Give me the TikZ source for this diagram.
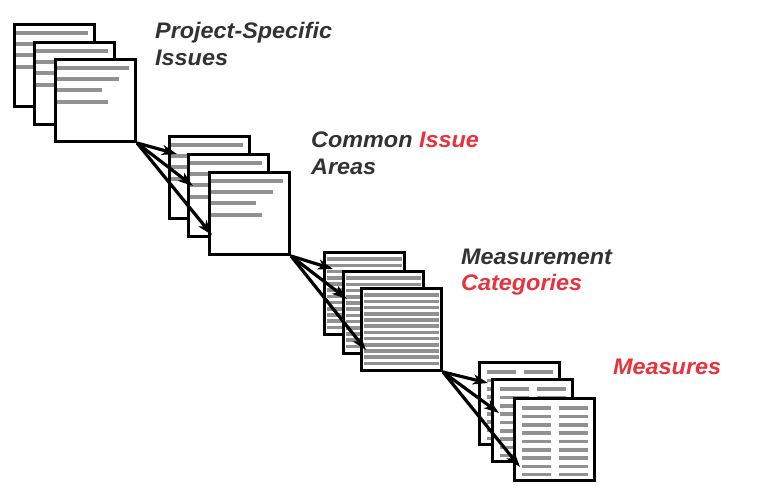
\documentclass[tikz,border=0pt]{standalone}
\usepackage{xcolor}
\usepackage{fontspec}
\setsansfont{Liberation Sans}[FakeStretch=1.04]
\usepackage{tikz}
\usetikzlibrary{arrows.meta,positioning,calc}
\definecolor{bargray}{RGB}{145,145,145}
\definecolor{inkgray}{RGB}{50,50,50}
\definecolor{inkred}{RGB}{232,50,60}
\tikzset{
    page/.style={
        rectangle,
        draw=black,
        fill=white,
        line width=3.4pt,
        minimum width=79.6pt,
        minimum height=81.6pt,
        inner sep=0pt,
        anchor=north west
    },
    bar/.style={
        draw=bargray,
        line width=3.6pt
    },
    % ragged text lines
    notepage/.style={
        page,
        path picture={
            \foreach \y/\l in {8.5/72, 19.5/62, 30.5/45, 42.5/51}
                \draw[bar] ([shift={(1.5,-\y)}]path picture bounding box.north west) -- ++(\l,0);
        }
    },
    % full width stripes
    stripepage/.style={
        page,
        path picture={
            \foreach \i in {0,...,11}
                \draw[bar] ([shift={(2.5,-6.5-6.2*\i)}]path picture bounding box.north west) -- ++(75,0);
        }
    },
    % two column table
    tablepage/.style={
        page,
        path picture={
            \foreach \i in {0,...,8} {
                \draw[bar] ([shift={(7.5,-9.5-8.3*\i)}]path picture bounding box.north west) -- ++(29,0);
                \draw[bar] ([shift={(44.5,-9.5-8.3*\i)}]path picture bounding box.north west) -- ++(29,0);
            }
        }
    },
    headline/.style={
        font=\fontsize{22.5}{26.5}\selectfont\sffamily\bfseries\itshape,
        text=inkgray,
        align=left,
        inner sep=0pt,
        anchor=north west
    },
    flow/.style={
        line width=3.2pt,
        -{Stealth[length=15pt,width=10pt,inset=4pt]}
    }
}

\begin{document}
\begin{tikzpicture}[x=1pt, y=1pt]
\useasboundingbox (0,0) rectangle (766,-495);

% Project-specific issues
\node[notepage] (iss-a) at (13,-23) {};
\node[notepage] (iss-b) at (33,-41) {};
\node[notepage] (iss-c) at (54,-58) {};
\node[headline] (iss-text) at (155,-22) {Project-Specific\\Issues};

% Common issue areas
\node[notepage] (area-a) at (168,-135) {};
\node[notepage] (area-b) at (187,-153) {};
\node[notepage] (area-c) at (208,-171) {};
\node[headline] (area-text) at (311,-132) {Common \textcolor{inkred}{Issue}\\Areas};

% Measurement categories
\node[stripepage] (cat-a) at (323,-251) {};
\node[stripepage] (cat-b) at (342,-270) {};
\node[stripepage] (cat-c) at (360,-287) {};
\node[headline] (cat-text) at (461,-249) {Measurement\\[-1pt]\textcolor{inkred}{Categories}};

% Measures
\node[tablepage] (meas-a) at (478,-361) {};
\node[tablepage] (meas-b) at (491,-378) {};
\node[tablepage] (meas-c) at (513,-397) {};
\node[headline, text=inkred] (meas-text) at (613,-359) {Measures};

% fan out from the last page of each stack
\draw[flow] (iss-c.south east) -- ($(area-a.north west)+(9,-19)$);
\draw[flow] (iss-c.south east) -- ($(area-b.north west)+(6,-33)$);
\draw[flow] (iss-c.south east) -- ($(area-c.north west)+(4,-64)$);

\draw[flow] (area-c.south east) -- ($(cat-a.north west)+(10,-18)$);
\draw[flow] (area-c.south east) -- ($(cat-b.north west)+(5,-29)$);
\draw[flow] (area-c.south east) -- ($(cat-c.north west)+(6,-63)$);

\draw[flow] (cat-c.south east) -- ($(meas-a.north west)+(10,-22)$);
\draw[flow] (cat-c.south east) -- ($(meas-b.north west)+(8,-35)$);
\draw[flow] (cat-c.south east) -- ($(meas-c.north west)+(7,-70)$);
\end{tikzpicture}
\end{document}
